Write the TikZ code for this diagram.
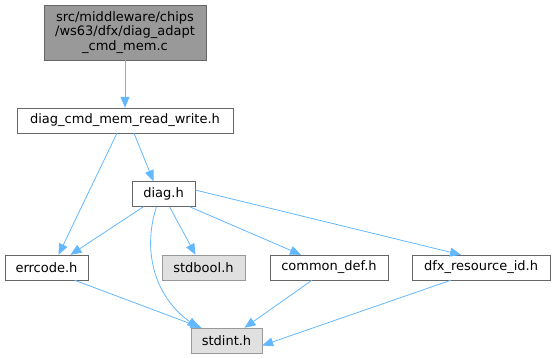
\documentclass[tikz,border=0pt]{standalone}
\usepackage{fontspec}
\setmainfont{DejaVu Sans}
\usepackage{xcolor}
\usetikzlibrary{arrows.meta}

\definecolor{edgeblue}{HTML}{63B8FF}
\definecolor{boxline}{HTML}{666666}
\definecolor{extline}{HTML}{999999}
\definecolor{extfill}{HTML}{E0E0E0}
\definecolor{rootfill}{HTML}{999999}

\begin{document}
\begin{tikzpicture}[
  x=1pt, y=-1pt,
  every node/.style={font=\fontsize{13}{14.5}\selectfont},
  file/.style={rectangle, draw=boxline, fill=white, align=center,
               minimum height=25pt, inner sep=2pt},
  root/.style={file, fill=rootfill, minimum height=55pt},
  ext/.style={file, draw=extline, fill=extfill},
  dep/.style={-{Triangle[length=11pt,width=9pt]}, draw=edgeblue, line width=0.8pt}]

\useasboundingbox (0,0) rectangle (555,359);

\node[root, minimum width=162pt] (adapt) at (125,32.5) {src/middleware/chips\\/ws63/dfx/diag\_adapt\\\_cmd\_mem.c};
\node[file, minimum width=216pt] (rw) at (125,120.5) {diag\_cmd\_mem\_read\_write.h};
\node[file, minimum width=63pt] (diag) at (163.5,194) {diag.h};
\node[file, minimum width=83pt] (errcode) at (46.5,267.5) {errcode.h};
\node[ext, minimum width=83pt] (stdbool) at (203.5,267.5) {stdbool.h};
\node[file, minimum width=118pt] (commondef) at (329,267.5) {common\_def.h};
\node[file, minimum width=138pt] (dfxres) at (481,267.5) {dfx\_resource\_id.h};
\node[ext, minimum width=71pt] (stdint) at (226.5,340.5) {stdint.h};

\draw[dep] (adapt) -- (rw);
\draw[dep] ([xshift=-8pt]rw.south) -- ([xshift=12pt]errcode.north);
\draw[dep] ([xshift=9pt]rw.south) -- ([xshift=-10pt]diag.north);
\draw[dep] ([xshift=-20pt]diag.south) -- ([xshift=24pt]errcode.north);
\draw[dep] ([xshift=-7pt]diag.south) to[out=-108,in=145] ([xshift=-28pt]stdint.north);
\draw[dep] ([xshift=6pt]diag.south) -- ([xshift=-8pt]stdbool.north);
\draw[dep] ([xshift=26pt]diag.south) -- ([xshift=-28pt]commondef.north);
\draw[dep] ([yshift=4pt]diag.east) -- ([xshift=-20pt]dfxres.north);
\draw[dep] ([xshift=28pt]errcode.south) -- ([xshift=-25pt]stdint.north);
\draw[dep] ([xshift=-17pt]commondef.south) -- ([xshift=18pt]stdint.north);
\draw[dep] ([xshift=-30pt]dfxres.south) -- ([yshift=-5pt]stdint.east);
\end{tikzpicture}
\end{document}
